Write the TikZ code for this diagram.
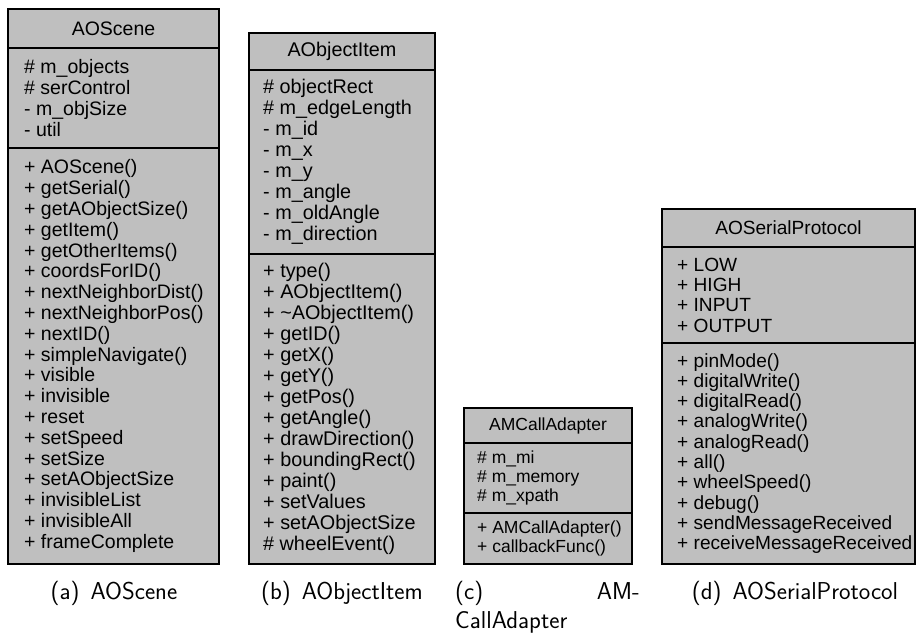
\documentclass[tikz,border=0pt]{standalone}
\usepackage{fontspec}
\newfontfamily\umlfont{Liberation Sans}
\definecolor{umlgray}{HTML}{BFBFBF}
\begin{document}
\begin{tikzpicture}[x=1pt,y=-1pt,
  part/.style={draw=black, line width=1.2pt, fill=umlgray, rectangle, inner sep=0pt, outer sep=0pt, anchor=north west},
  lines/.style={align=left, inner sep=0pt, anchor=west},
  fa/.style={font=\umlfont\fontsize{19.5}{20.8}\selectfont},
  fb/.style={font=\umlfont\fontsize{19.8}{21}\selectfont},
  fc/.style={font=\umlfont\fontsize{17.5}{18.8}\selectfont},
  fd/.style={font=\umlfont\fontsize{19.1}{20.3}\selectfont},
  capt/.style={font=\sffamily\fontsize{24.4}{29}\selectfont, inner sep=0pt}]
\useasboundingbox (0,0) rectangle (918,634);
% (a) AOScene
\node[part, fa, minimum width=211pt, minimum height=39pt] (aT) at (8,9) {AOScene};
\node[part, minimum width=211pt, minimum height=100pt] (aA) at (aT.south west) {};
\node[part, minimum width=211pt, minimum height=416pt] (aM) at (aA.south west) {};
\node[lines, fa] (aAt) at ([xshift=16pt]aA.west) {\# m\_objects\\\# serControl\\- m\_objSize\\- util};
\node[lines, fa] (aMt) at ([xshift=16pt]aM.west) {+ AOScene()\\+ getSerial()\\+ getAObjectSize()\\+ getItem()\\+ getOtherItems()\\+ coordsForID()\\+ nextNeighborDist()\\+ nextNeighborPos()\\+ nextID()\\+ simpleNavigate()\\+ visible\\+ invisible\\+ reset\\+ setSpeed\\+ setSize\\+ setAObjectSize\\+ invisibleList\\+ invisibleAll\\+ frameComplete};
% (b) AObjectItem
\node[part, fb, minimum width=186pt, minimum height=37pt] (bT) at (249,33) {AObjectItem};
\node[part, minimum width=186pt, minimum height=184pt] (bA) at (bT.south west) {};
\node[part, minimum width=186pt, minimum height=310pt] (bM) at (bA.south west) {};
\node[lines, fb] (bAt) at ([xshift=14pt]bA.west) {\# objectRect\\\# m\_edgeLength\\- m\_id\\- m\_x\\- m\_y\\- m\_angle\\- m\_oldAngle\\- m\_direction};
\node[lines, fb] (bMt) at ([xshift=14pt]bM.west) {+ type()\\+ AObjectItem()\\+ \textasciitilde AObjectItem()\\+ getID()\\+ getX()\\+ getY()\\+ getPos()\\+ getAngle()\\+ drawDirection()\\+ boundingRect()\\+ paint()\\+ setValues\\+ setAObjectSize\\\# wheelEvent()};
% (c) AMCallAdapter
\node[part, fc, minimum width=168pt, minimum height=35pt] (cT) at (464,408) {AMCallAdapter};
\node[part, minimum width=168pt, minimum height=70pt] (cA) at (cT.south west) {};
\node[part, minimum width=168pt, minimum height=51pt] (cM) at (cA.south west) {};
\node[lines, fc] (cAt) at ([xshift=13pt]cA.west) {\# m\_mi\\\# m\_memory\\\# m\_xpath};
\node[lines, fc] (cMt) at ([xshift=13pt]cM.west) {+ AMCallAdapter()\\+ callbackFunc()};
% (d) AOSerialProtocol
\node[part, fd, minimum width=253pt, minimum height=38pt] (dT) at (662,209) {AOSerialProtocol};
\node[part, minimum width=253pt, minimum height=96pt] (dA) at (dT.south west) {};
\node[part, minimum width=253pt, minimum height=221pt] (dM) at (dA.south west) {};
\node[lines, fd] (dAt) at ([xshift=15pt]dA.west) {+ LOW\\+ HIGH\\+ INPUT\\+ OUTPUT};
\node[lines, fd] (dMt) at ([xshift=15pt]dM.west) {+ pinMode()\\+ digitalWrite()\\+ digitalRead()\\+ analogWrite()\\+ analogRead()\\+ all()\\+ wheelSpeed()\\+ debug()\\+ sendMessageReceived\\+ receiveMessageReceived};
% captions
\node[capt, anchor=base] (capa) at (114,599) {(a)\hspace{0.45em}AOScene};
\node[capt, anchor=base] (capb) at (342,599) {(b)\hspace{0.45em}AObjectItem};
\node[capt, anchor=base west] (capc1) at (455,599) {(c)};
\node[capt, anchor=base east] (capc2) at (640,599) {AM-};
\node[capt, anchor=base west] (capc3) at (455,628) {CallAdapter};
\node[capt, anchor=base] (capd) at (795,599) {(d)\hspace{0.45em}AOSerialProtocol};
\end{tikzpicture}
\end{document}
